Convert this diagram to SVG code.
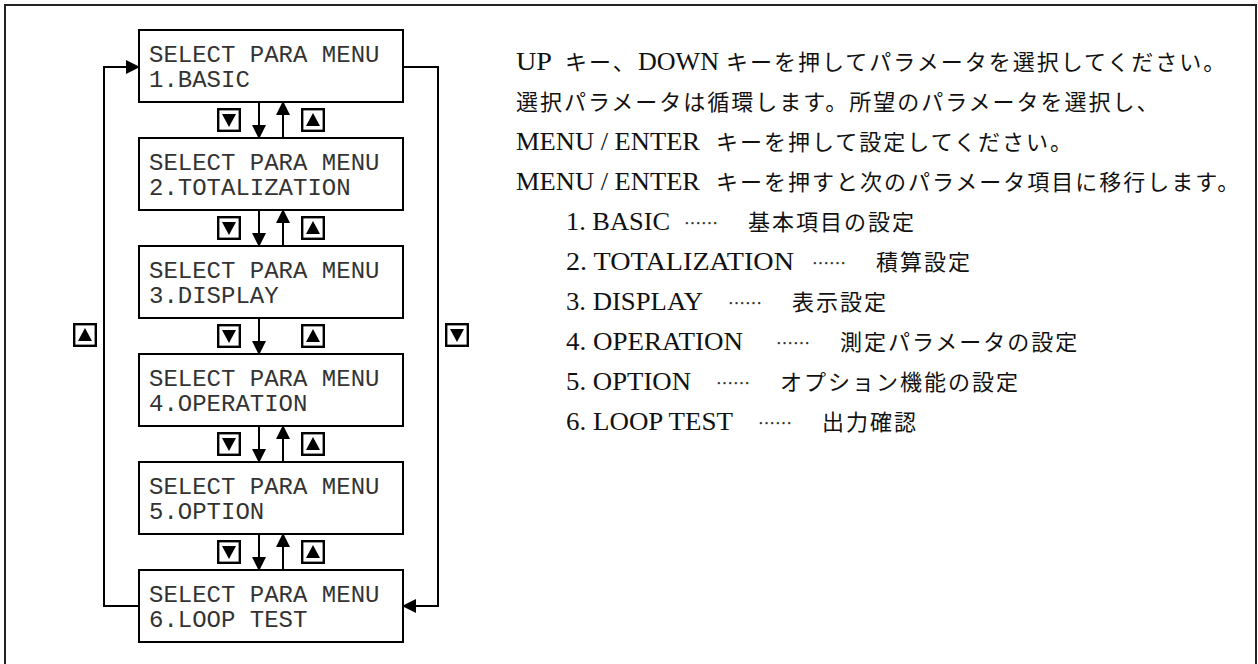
<svg xmlns="http://www.w3.org/2000/svg" xmlns:xlink="http://www.w3.org/1999/xlink" width="1258" height="664" viewBox="0 0 1258 664">
<style>
.frame{fill:none;stroke:#222;stroke-width:2}
.box{fill:#fff;stroke:#000;stroke-width:2}
.mono{font-family:"Liberation Mono","DejaVu Sans Mono",monospace;font-size:24px;fill:#333}
.con{fill:none;stroke:#000;stroke-width:2}
.lat{font-family:"Liberation Serif","Noto Sans CJK JP",serif;font-size:25px;fill:#111}
.jp{font-family:"Noto Sans CJK JP","Liberation Serif",sans-serif;font-size:22px;letter-spacing:2px;fill:#111}
.dots{font-family:"Noto Sans CJK JP",sans-serif;font-size:17px;fill:#333}
</style>
<defs>
<marker id="ah" markerUnits="userSpaceOnUse" markerWidth="14" markerHeight="14" refX="13" refY="7" orient="auto">
<path d="M0,0 L14,7 L0,14 z" fill="#000"/>
</marker>
<symbol id="kdown" viewBox="0 0 24 24"><rect x="1.2" y="1.2" width="21.6" height="21.6" fill="#fff" stroke="#000" stroke-width="2.4"/><path d="M5,6 L19,6 L12,19 z" fill="#000"/></symbol>
<symbol id="kup" viewBox="0 0 24 24"><rect x="1.2" y="1.2" width="21.6" height="21.6" fill="#fff" stroke="#000" stroke-width="2.4"/><path d="M5,18 L19,18 L12,5 z" fill="#000"/></symbol>
</defs>
<rect x="0" y="0" width="1258" height="664" fill="#fff"/>
<rect class="frame" x="5" y="5" width="1251" height="680"/>

<g id="connectors">
<path class="con" d="M259,102 V138" marker-end="url(#ah)"/>
<path class="con" d="M283,138 V102" marker-end="url(#ah)"/>
<path class="con" d="M259,210 V246" marker-end="url(#ah)"/>
<path class="con" d="M283,246 V210" marker-end="url(#ah)"/>
<path class="con" d="M259,318 V354" marker-end="url(#ah)"/>
<path class="con" d="M259,426 V462" marker-end="url(#ah)"/>
<path class="con" d="M283,462 V426" marker-end="url(#ah)"/>
<path class="con" d="M259,534 V570" marker-end="url(#ah)"/>
<path class="con" d="M283,570 V534" marker-end="url(#ah)"/>
<path class="con" d="M139,606 H104 V67 H139" marker-end="url(#ah)"/>
<path class="con" d="M403,67 H438 V606 H403" marker-end="url(#ah)"/>
</g>

<g id="keys">
<use xlink:href="#kdown" x="217" y="108" width="24" height="24"/>
<use xlink:href="#kup" x="301" y="108" width="24" height="24"/>
<use xlink:href="#kdown" x="217" y="216" width="24" height="24"/>
<use xlink:href="#kup" x="301" y="216" width="24" height="24"/>
<use xlink:href="#kdown" x="217" y="324" width="24" height="24"/>
<use xlink:href="#kup" x="301" y="324" width="24" height="24"/>
<use xlink:href="#kdown" x="217" y="432" width="24" height="24"/>
<use xlink:href="#kup" x="301" y="432" width="24" height="24"/>
<use xlink:href="#kdown" x="217" y="540" width="24" height="24"/>
<use xlink:href="#kup" x="301" y="540" width="24" height="24"/>
<use xlink:href="#kup" x="73" y="323" width="24" height="24"/>
<use xlink:href="#kdown" x="445" y="323" width="24" height="24"/>
</g>

<g id="menu1"><rect class="box" x="139" y="30" width="264" height="72"/><text class="mono" x="149" y="62">SELECT PARA MENU</text><text class="mono" x="149" y="87">1.BASIC</text></g>
<g id="menu2"><rect class="box" x="139" y="138" width="264" height="72"/><text class="mono" x="149" y="170">SELECT PARA MENU</text><text class="mono" x="149" y="195">2.TOTALIZATION</text></g>
<g id="menu3"><rect class="box" x="139" y="246" width="264" height="72"/><text class="mono" x="149" y="278">SELECT PARA MENU</text><text class="mono" x="149" y="303">3.DISPLAY</text></g>
<g id="menu4"><rect class="box" x="139" y="354" width="264" height="72"/><text class="mono" x="149" y="386">SELECT PARA MENU</text><text class="mono" x="149" y="411">4.OPERATION</text></g>
<g id="menu5"><rect class="box" x="139" y="462" width="264" height="72"/><text class="mono" x="149" y="494">SELECT PARA MENU</text><text class="mono" x="149" y="519">5.OPTION</text></g>
<g id="menu6"><rect class="box" x="139" y="570" width="264" height="72"/><text class="mono" x="149" y="602">SELECT PARA MENU</text><text class="mono" x="149" y="627">6.LOOP TEST</text></g>

<g id="description">
<text class="lat" x="516" y="70" textLength="36" lengthAdjust="spacingAndGlyphs">UP</text>
<text class="jp" x="565" y="70">キー、</text>
<text class="lat" x="638" y="70" textLength="81" lengthAdjust="spacingAndGlyphs">DOWN</text>
<text class="jp" x="726" y="70">キーを押してパラメータを選択してください。</text>
<text class="jp" x="516" y="110">選択パラメータは循環します。所望のパラメータを選択し、</text>
<text class="lat" x="516" y="150" textLength="184" lengthAdjust="spacingAndGlyphs">MENU / ENTER</text>
<text class="jp" x="716" y="150">キーを押して設定してください。</text>
<text class="lat" x="516" y="190" textLength="184" lengthAdjust="spacingAndGlyphs">MENU / ENTER</text>
<text class="jp" x="716" y="190">キーを押すと次のパラメータ項目に移行します。</text>
</g>

<g id="items">
<text class="lat" x="566" y="230" textLength="104" lengthAdjust="spacingAndGlyphs">1. BASIC</text>
<text class="dots" x="684" y="230">……</text>
<text class="jp" x="748" y="230">基本項目の設定</text>
<text class="lat" x="566" y="270" textLength="228" lengthAdjust="spacingAndGlyphs">2. TOTALIZATION</text>
<text class="dots" x="812" y="270">……</text>
<text class="jp" x="876" y="270">積算設定</text>
<text class="lat" x="566" y="310" textLength="137" lengthAdjust="spacingAndGlyphs">3. DISPLAY</text>
<text class="dots" x="728" y="310">……</text>
<text class="jp" x="792" y="310">表示設定</text>
<text class="lat" x="566" y="350" textLength="177" lengthAdjust="spacingAndGlyphs">4. OPERATION</text>
<text class="dots" x="776" y="350">……</text>
<text class="jp" x="840" y="350">測定パラメータの設定</text>
<text class="lat" x="566" y="390" textLength="125" lengthAdjust="spacingAndGlyphs">5. OPTION</text>
<text class="dots" x="716" y="390">……</text>
<text class="jp" x="780" y="390">オプション機能の設定</text>
<text class="lat" x="566" y="430" textLength="167" lengthAdjust="spacingAndGlyphs">6. LOOP TEST</text>
<text class="dots" x="758" y="430">……</text>
<text class="jp" x="822" y="430">出力確認</text>
</g>
</svg>
